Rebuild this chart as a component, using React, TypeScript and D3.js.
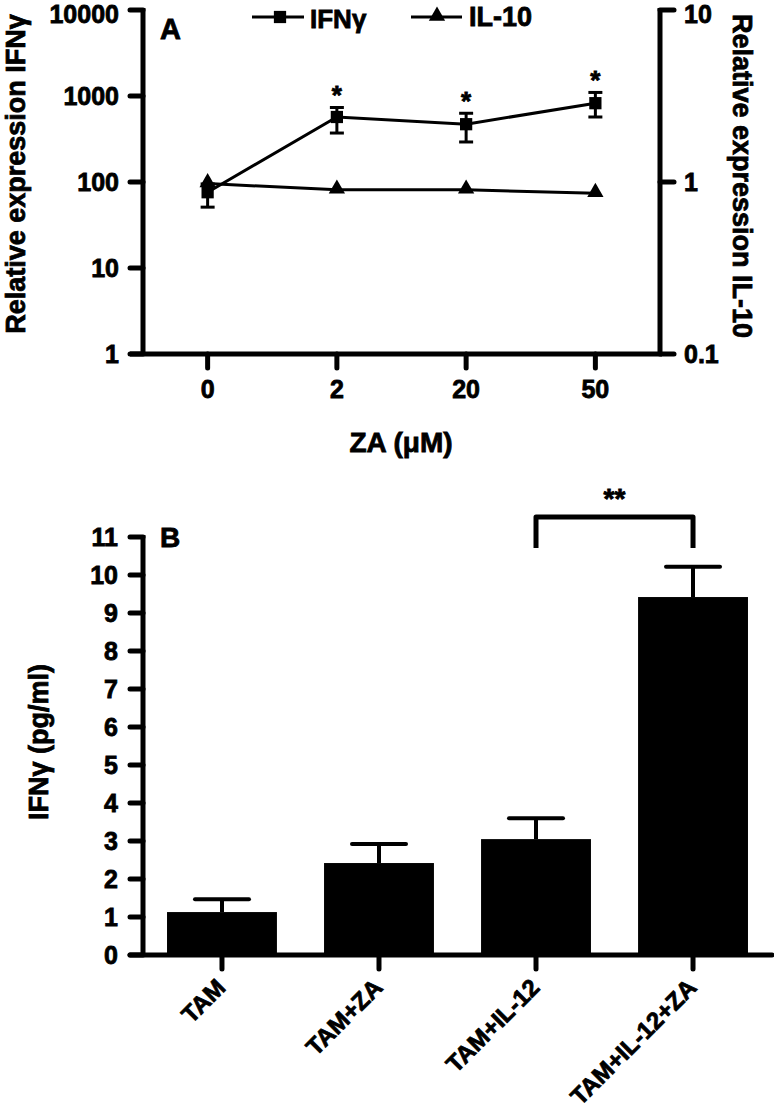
import React from "react";
import * as d3 from "d3";

// Panel A data
const doses = ["0", "2", "20", "50"];
const ifngMean = [76, 570, 470, 825];
const ifngLow = [51, 371, 292, 570];
const ifngHigh = [95, 735, 630, 1100];
const ifngStar = [false, true, true, true];
const il10Mean = [0.98, 0.9, 0.9, 0.86];
const leftTicks = [1, 10, 100, 1000, 10000];
const rightTicks = [0.1, 1, 10];

// Panel B data
const groups = ["TAM", "TAM+ZA", "TAM+IL-12", "TAM+IL-12+ZA"];
const groupMean = [1.13, 2.42, 3.05, 9.42];
const groupErr = [0.34, 0.5, 0.55, 0.8];
const bTicks = [0, 1, 2, 3, 4, 5, 6, 7, 8, 9, 10, 11];

const FONT = "'Liberation Sans', Arial, Helvetica, sans-serif";
const TS = { stroke: "#000", strokeWidth: 0.8 } as const;

export default function App() {
  const W = 774, H = 1115;
  // Panel A scales
  const xA = d3.scalePoint<string>().domain(doses).range([143, 660]).padding(0.5);
  const yL = d3.scaleLog().domain([1, 10000]).range([354, 10]);
  const yR = d3.scaleLog().domain([0.1, 10]).range([354, 10]);
  const ifngLine = d3.line<number>().x((_, i) => xA(doses[i])!).y((d) => yL(d));
  const il10Line = d3.line<number>().x((_, i) => xA(doses[i])!).y((d) => yR(d));
  const tri = d3.symbol().type(d3.symbolTriangle).size(115)()!;
  const sq = d3.symbol().type(d3.symbolSquare).size(150)()!;

  // Panel B scales
  const xB = d3.scaleBand<string>().domain(groups).range([143, 772]).paddingInner(0.3).paddingOuter(0.153);
  const yB = d3.scaleLinear().domain([0, 11]).range([955, 537]);
  const cx = (g: string) => xB(g)! + xB.bandwidth() / 2;

  const axisW = 5;
  return (
    <svg width={W} height={H} style={{ position: "absolute", left: 0, top: 0 }} fontFamily={FONT} fontWeight="bold">
      <rect width={W} height={H} fill="#fff" />
      {/* ===== Panel A ===== */}
      <g>
        {/* left axis */}
        <line x1={143} x2={143} y1={yL(10000) - 2} y2={354} stroke="#000" strokeWidth={axisW} />
        {leftTicks.map((t) => (
          <g key={"l" + t}>
            <line x1={130} x2={143} y1={yL(t)} y2={yL(t)} stroke="#000" strokeWidth={axisW} strokeLinecap="round" />
            <text x={119} y={Math.max(yL(t) + 9, 23)} textAnchor="end" fontSize={25} {...TS}>{t}</text>
          </g>
        ))}
        {/* right axis */}
        <line x1={660} x2={660} y1={yR(10) - 2} y2={356} stroke="#000" strokeWidth={axisW} />
        {rightTicks.map((t) => (
          <g key={"r" + t}>
            <line x1={660} x2={674} y1={yR(t)} y2={yR(t)} stroke="#000" strokeWidth={axisW} strokeLinecap="round" />
            <text x={684} y={Math.max(yR(t) + 9, 23)} textAnchor="start" fontSize={25} {...TS}>{t}</text>
          </g>
        ))}
        {/* x axis */}
        <line x1={130} x2={662} y1={354} y2={354} stroke="#000" strokeWidth={axisW} />
        {doses.map((d) => (
          <g key={"x" + d}>
            <line x1={xA(d)} x2={xA(d)} y1={354} y2={368} stroke="#000" strokeWidth={axisW} strokeLinecap="round" />
            <text x={xA(d)} y={398} textAnchor="middle" fontSize={25} {...TS}>{d}</text>
          </g>
        ))}
        <text x={401} y={452} textAnchor="middle" fontSize={28} {...TS}>ZA (μM)</text>
        <text transform="translate(25,174) rotate(-90)" textAnchor="middle" fontSize={27} {...TS}>Relative expression IFNγ</text>
        <text transform="translate(733,176) rotate(90)" textAnchor="middle" fontSize={27} {...TS}>Relative expression IL-10</text>
        <text x={160} y={39} fontSize={29} {...TS}>A</text>

        {/* IL-10 series */}
        <path d={il10Line(il10Mean)!} fill="none" stroke="#000" strokeWidth={3} />
        {il10Mean.map((v, i) => (
          <path key={"t" + i} d={tri} transform={`translate(${xA(doses[i])},${yR(v) - 1})`} fill="#000" />
        ))}
        {/* IFNγ series */}
        <path d={ifngLine(ifngMean)!} fill="none" stroke="#000" strokeWidth={3} />
        {ifngMean.map((v, i) => {
          const x = xA(doses[i])!;
          return (
            <g key={"s" + i}>
              <line x1={x} x2={x} y1={yL(ifngHigh[i])} y2={yL(ifngLow[i])} stroke="#000" strokeWidth={3} />
              <line x1={x - 7} x2={x + 7} y1={yL(ifngHigh[i])} y2={yL(ifngHigh[i])} stroke="#000" strokeWidth={3} />
              <line x1={x - 7} x2={x + 7} y1={yL(ifngLow[i])} y2={yL(ifngLow[i])} stroke="#000" strokeWidth={3} />
              <path d={sq} transform={`translate(${x},${yL(v)})`} fill="#000" />
              {ifngStar[i] && (
                <text x={x} y={yL(ifngHigh[i]) - 3} textAnchor="middle" fontSize={26} {...TS}>*</text>
              )}
            </g>
          );
        })}
        {/* legend */}
        <line x1={252} x2={304} y1={17} y2={17} stroke="#000" strokeWidth={3} />
        <path d={sq} transform="translate(280,17)" fill="#000" />
        <text x={310} y={28} fontSize={26} {...TS}>IFNγ</text>
        <line x1={411} x2={462} y1={17} y2={17} stroke="#000" strokeWidth={3} />
        <path d={tri} transform="translate(437,16)" fill="#000" />
        <text x={469} y={26} fontSize={27} {...TS}>IL-10</text>
      </g>

      {/* ===== Panel B ===== */}
      <g>
        {groups.map((g, i) => {
          const x0 = xB(g)!;
          const c = cx(g);
          const top = yB(groupMean[i]);
          const et = yB(groupMean[i] + groupErr[i]);
          return (
            <g key={g}>
              <line x1={c} x2={c} y1={top} y2={et} stroke="#000" strokeWidth={4} />
              <line x1={c - 27} x2={c + 27} y1={et} y2={et} stroke="#000" strokeWidth={4} strokeLinecap="round" />
              <rect x={x0} y={top} width={xB.bandwidth()} height={yB(0) - top} fill="#000" />
            </g>
          );
        })}
        <line x1={143} x2={143} y1={yB(11) - 2} y2={957} stroke="#000" strokeWidth={axisW} />
        {bTicks.map((t) => (
          <g key={"b" + t}>
            <line x1={130} x2={143} y1={yB(t)} y2={yB(t)} stroke="#000" strokeWidth={axisW} strokeLinecap="round" />
            <text x={118} y={yB(t) + 9} textAnchor="end" fontSize={25} {...TS}>{t}</text>
          </g>
        ))}
        <line x1={130} x2={772} y1={955} y2={955} stroke="#000" strokeWidth={axisW} strokeLinecap="round" />
        {groups.map((g) => (
          <g key={"bx" + g}>
            <line x1={cx(g)} x2={cx(g)} y1={955} y2={969} stroke="#000" strokeWidth={axisW} strokeLinecap="round" />
            <text transform={`translate(${cx(g) + 5},${989}) rotate(-45)`} textAnchor="end" fontSize={24} {...TS}>{g}</text>
          </g>
        ))}
        <text transform="translate(48,742) rotate(-90)" textAnchor="middle" fontSize={27} {...TS}>IFNγ (pg/ml)</text>
        <text x={160} y={547} fontSize={28} {...TS}>B</text>
        {/* significance bracket */}
        <path
          d={`M${cx(groups[2])},${548} V${517} H${cx(groups[3])} V${548}`}
          fill="none" stroke="#000" strokeWidth={5} strokeLinejoin="round"
        />
        <text x={(cx(groups[2]) + cx(groups[3])) / 2} y={508} textAnchor="middle" fontSize={28} {...TS}>**</text>
      </g>
    </svg>
  );
}
